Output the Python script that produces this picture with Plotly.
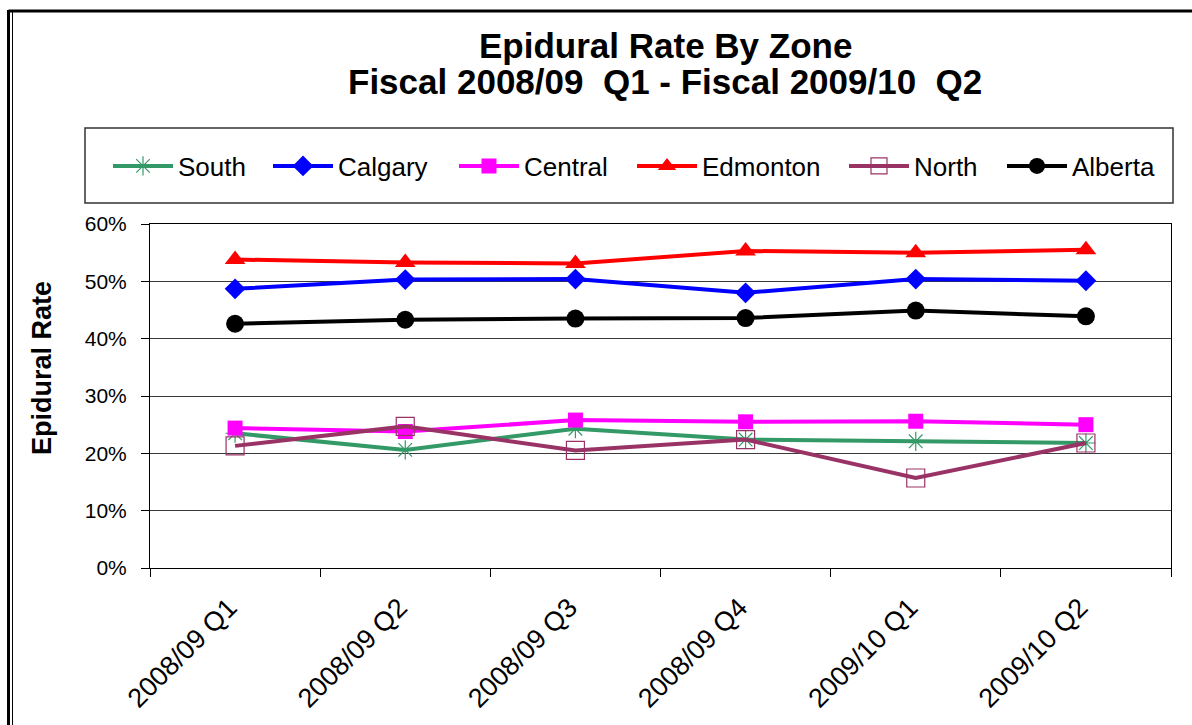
import plotly.graph_objects as go

categories = ["2008/09 Q1", "2008/09 Q2", "2008/09 Q3", "2008/09 Q4", "2009/10 Q1", "2009/10 Q2"]
south = [0.235, 0.206, 0.243, 0.224, 0.221, 0.218]
calgary = [0.487, 0.503, 0.504, 0.480, 0.504, 0.501]
central = [0.244, 0.238, 0.258, 0.255, 0.256, 0.250]
edmonton = [0.538, 0.533, 0.531, 0.553, 0.550, 0.555]
north = [0.213, 0.247, 0.205, 0.224, 0.157, 0.218]
alberta = [0.426, 0.433, 0.435, 0.436, 0.449, 0.439]
y_ticks = [0, 0.1, 0.2, 0.3, 0.4, 0.5, 0.6]

W, H = 1192, 725
L, R, T, B = 150, 21, 224, 157
PW, PH = W - L - R, H - T - B

def px_x(px):
    return (px - L) / PW

def px_y(py):
    return (H - B - py) / PH

FONT = "Liberation Sans, Arial, sans-serif"

series = [
    ("South", south, "#339966", dict(symbol="asterisk-open", size=16, line=dict(width=1.2, color="#339966"))),
    ("Calgary", calgary, "#0000FF", dict(symbol="diamond", size=16)),
    ("Central", central, "#FF00FF", dict(symbol="square", size=15)),
    ("Edmonton", edmonton, "#FF0000", dict(symbol="triangle-up", size=18)),
    ("North", north, "#993366", dict(symbol="square-open", size=18, line=dict(width=1.2, color="#993366"))),
    ("Alberta", alberta, "#000000", dict(symbol="circle", size=18)),
]

# legend text start positions (px) in reference
leg_text_x = [179, 339, 525, 703, 915, 1073]
ITEMW = 60
TEXT_OFFSET = ITEMW + 11

fig = go.Figure()
for i, (name, vals, col, mk) in enumerate(series):
    mk = dict(mk)
    mk["color"] = col
    lg = "legend" if i == 0 else f"legend{i+1}"
    fig.add_trace(go.Scatter(
        x=categories, y=vals, name=name, mode="lines+markers",
        line=dict(color=col, width=4), marker=mk, legend=lg,
        cliponaxis=False,
    ))

legends = {}
for i, tx in enumerate(leg_text_x):
    key = "legend" if i == 0 else f"legend{i+1}"
    legends[key] = dict(
        x=px_x(tx - TEXT_OFFSET), xanchor="left", y=px_y(166), yanchor="middle",
        orientation="h", bgcolor="rgba(0,0,0,0)", borderwidth=0, itemwidth=ITEMW,
        font=dict(family=FONT, size=26, color="#000"),
    )

shapes = [
    # legend box
    dict(type="rect", xref="paper", yref="paper",
         x0=px_x(85), x1=px_x(1173), y0=px_y(203), y1=px_y(128),
         line=dict(color="#333333", width=1.5), fillcolor="rgba(0,0,0,0)"),
    # outer frame
    dict(type="line", xref="paper", yref="paper",
         x0=px_x(8.5), x1=px_x(1200), y0=px_y(11), y1=px_y(11),
         line=dict(color="#000", width=3)),
    dict(type="line", xref="paper", yref="paper",
         x0=px_x(8.5), x1=px_x(8.5), y0=px_y(10), y1=px_y(730),
         line=dict(color="#000", width=3)),
    dict(type="line", xref="paper", yref="paper",
         x0=px_x(12.5), x1=px_x(12.5), y0=px_y(12), y1=px_y(730),
         line=dict(color="#000", width=1)),
]

annotations = [
    dict(text="<b>Epidural Rate By Zone</b>", xref="paper", yref="paper",
         x=px_x(665), y=px_y(45), xanchor="center", yanchor="middle", showarrow=False,
         font=dict(family=FONT, size=35, color="#000")),
    dict(text="<b>Fiscal 2008/09  Q1 - Fiscal 2009/10  Q2</b>", xref="paper", yref="paper",
         x=px_x(665), y=px_y(82), xanchor="center", yanchor="middle", showarrow=False,
         font=dict(family=FONT, size=35, color="#000")),
    dict(text="<b>Epidural Rate</b>", xref="paper", yref="paper",
         x=px_x(42), y=px_y(368), xanchor="center", yanchor="middle", showarrow=False,
         textangle=-90, font=dict(family=FONT, size=27, color="#000")),
]

fig.update_layout(
    width=W, height=H,
    margin=dict(l=L, r=R, t=T, b=B, autoexpand=False),
    paper_bgcolor="white", plot_bgcolor="white",
    showlegend=True,
    shapes=shapes, annotations=annotations,
    **legends,
)
fig.update_xaxes(
    type="category", range=[-0.5, 5.5], tickson="boundaries",
    ticks="outside", ticklen=8, tickcolor="#000", tickwidth=1,
    showline=True, linecolor="#000", linewidth=1, mirror=True,
    showgrid=False, tickangle=-45,
    tickfont=dict(family=FONT, size=27, color="#000"),
    ticklabelstandoff=12, ticklabelshift=-6,
    automargin=False,
)
fig.update_yaxes(
    range=[0, 0.6], tickvals=y_ticks, tickformat=".0%",
    ticks="outside", ticklen=8, tickcolor="#000", tickwidth=1,
    showline=True, linecolor="#000", linewidth=1, mirror=True,
    showgrid=True, gridcolor="#3a3a3a", gridwidth=1, zeroline=False,
    tickfont=dict(family=FONT, size=21, color="#000"),
    ticklabelstandoff=10,
    automargin=False,
)

fig.write_html("out.html")
